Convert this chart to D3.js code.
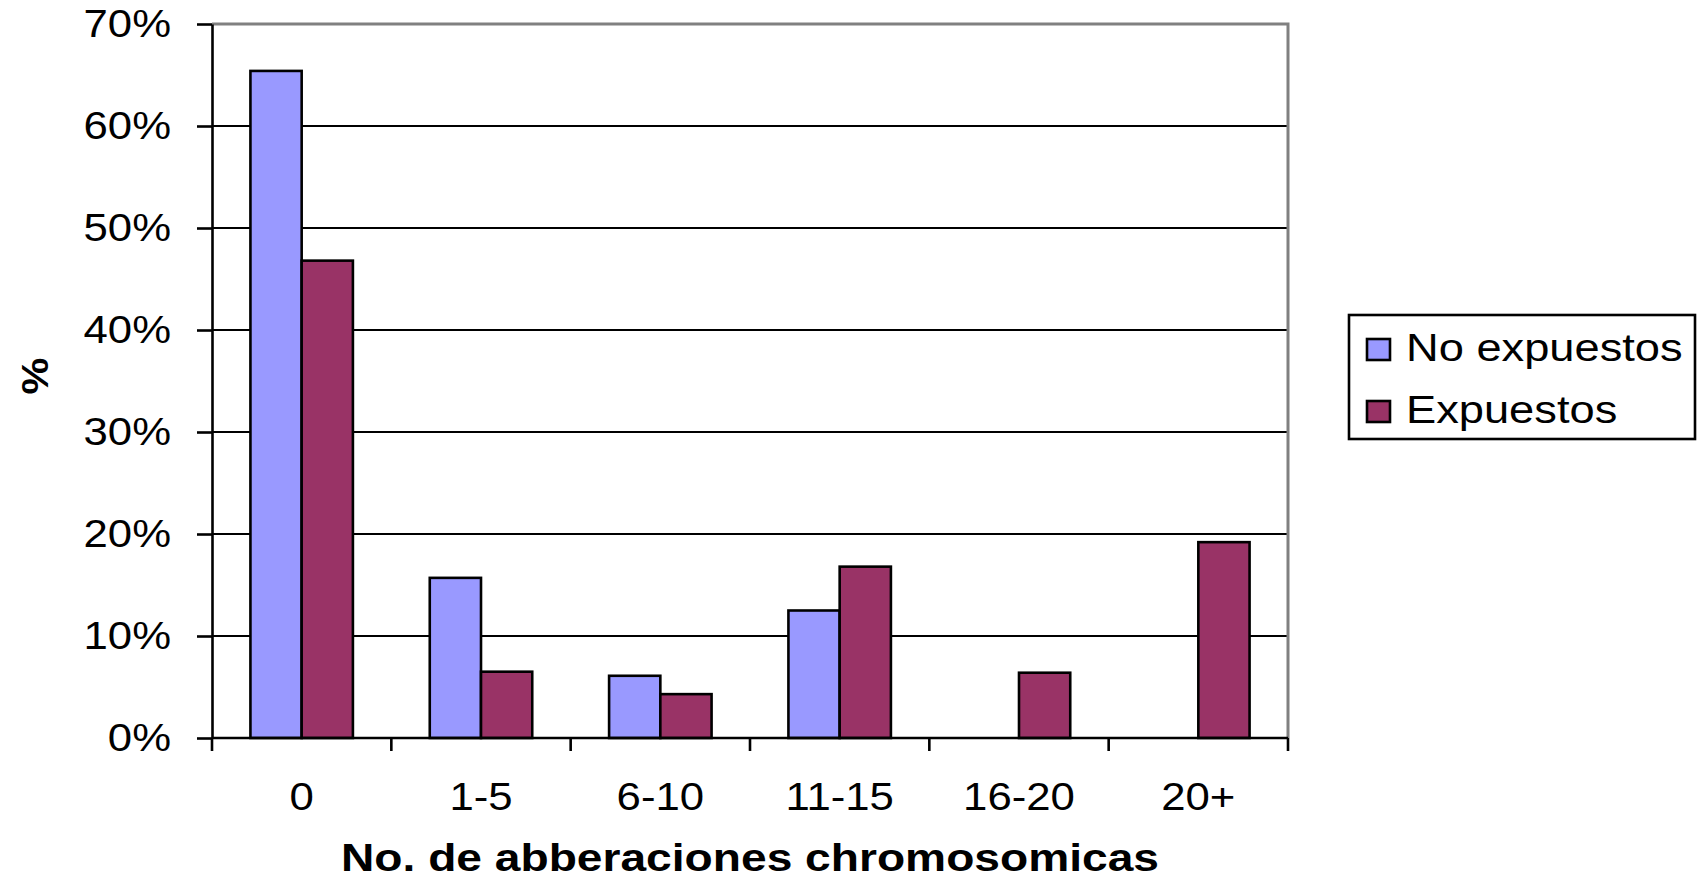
<!DOCTYPE html>
<html>
<head>
<meta charset="utf-8">
<script src="https://cdn.jsdelivr.net/npm/d3@7"></script>
<style>
  html, body { margin: 0; padding: 0; background: #fff; overflow: hidden; }
  svg { display: block; font-family: "Liberation Sans", Arial, sans-serif; }
</style>
</head>
<body>
<svg id="chart" width="1698" height="880"></svg>
<script>
// Chromosomal aberration counts, share of subjects per group
const categories = ["0", "1-5", "6-10", "11-15", "16-20", "20+"];
const seriesNames = ["No expuestos", "Expuestos"];
const noExpuestos = [0.654, 0.157, 0.061, 0.125, 0, 0];
const expuestos   = [0.468, 0.065, 0.043, 0.168, 0.064, 0.192];
const yTicks = [0, 0.1, 0.2, 0.3, 0.4, 0.5, 0.6, 0.7];
const colors = ["#9999FF", "#993366"];

const xTitle = "No. de abberaciones chromosomicas";
const yTitle = "%";

const svg = d3.select("#chart");
const plot = { left: 212, right: 1288, top: 24, bottom: 738 };

const x0 = d3.scaleBand().domain(categories).range([plot.left, plot.right]).padding(0);
const x1 = d3.scaleBand().domain(seriesNames).range([0, x0.bandwidth()])
  .paddingInner(0).paddingOuter(0.75);
const y = d3.scaleLinear().domain([0, 0.7]).range([plot.bottom, plot.top]);

const rows = categories.map((c, i) => ({ cat: c, values: [noExpuestos[i], expuestos[i]] }));

// widen a label's glyphs horizontally by the given factor
function widen(sel, factor) {
  sel.each(function () {
    const w = this.getComputedTextLength();
    if (w > 0) {
      d3.select(this).attr("textLength", w * factor).attr("lengthAdjust", "spacingAndGlyphs");
    }
  });
}

// horizontal gridlines
svg.append("g").selectAll("line")
  .data(yTicks.filter(t => t > 0 && t < 0.7))
  .join("line")
  .attr("x1", plot.left).attr("x2", plot.right)
  .attr("y1", d => y(d)).attr("y2", d => y(d))
  .attr("stroke", "#000").attr("stroke-width", 2.2);

// plot frame: top and right in grey
svg.append("path")
  .attr("d", `M${plot.left},${y(0.7)}H${plot.right}V${plot.bottom}`)
  .attr("fill", "none").attr("stroke", "#808080").attr("stroke-width", 3);

// bars
const groups = svg.append("g").selectAll("g")
  .data(rows).join("g")
  .attr("transform", d => `translate(${x0(d.cat)},0)`);

groups.selectAll("rect")
  .data(d => d.values.map((v, k) => ({ name: seriesNames[k], v, k })).filter(e => e.v > 0))
  .join("rect")
  .attr("x", d => x1(d.name))
  .attr("width", x1.bandwidth())
  .attr("y", d => y(d.v))
  .attr("height", d => y(0) - y(d.v))
  .attr("fill", d => colors[d.k])
  .attr("stroke", "#000").attr("stroke-width", 2.6);

// y axis
const yAxis = svg.append("g")
  .attr("transform", `translate(${plot.left},0)`)
  .call(d3.axisLeft(y).tickValues(yTicks).tickFormat(d3.format(".0%"))
    .tickSizeInner(15).tickSizeOuter(0).tickPadding(26));
yAxis.select(".domain").attr("stroke", "#000").attr("stroke-width", 2.6);
yAxis.selectAll(".tick line").attr("stroke", "#000").attr("stroke-width", 2.6);
yAxis.selectAll(".tick text")
  .attr("font-size", 38).attr("fill", "#000")
  .attr("font-family", "Liberation Sans, Arial, sans-serif")
  .call(widen, 1.15);

// x axis with ticks on category boundaries
const xAxisG = svg.append("g").attr("transform", `translate(0,${plot.bottom})`);
xAxisG.append("line")
  .attr("x1", plot.left).attr("x2", plot.right)
  .attr("stroke", "#000").attr("stroke-width", 2.6);
const boundaries = categories.map(c => x0(c)).concat([plot.right]);
xAxisG.selectAll("line.tk").data(boundaries).join("line")
  .attr("class", "tk")
  .attr("x1", d => d).attr("x2", d => d)
  .attr("y1", 0).attr("y2", 13)
  .attr("stroke", "#000").attr("stroke-width", 2.6);
xAxisG.selectAll("text").data(categories).join("text")
  .attr("x", d => x0(d) + x0.bandwidth() / 2)
  .attr("y", 72)
  .attr("text-anchor", "middle")
  .attr("font-size", 38).attr("fill", "#000")
  .text(d => d)
  .call(widen, 1.15);

// axis titles
svg.append("text")
  .attr("x", (plot.left + plot.right) / 2)
  .attr("y", 871)
  .attr("text-anchor", "middle")
  .attr("font-size", 38).attr("font-weight", "bold")
  .attr("textLength", 818).attr("lengthAdjust", "spacingAndGlyphs")
  .text(xTitle);

svg.append("text")
  .attr("transform", `translate(48,${(plot.top + plot.bottom) / 2 - 5}) rotate(-90)`)
  .attr("text-anchor", "middle")
  .attr("font-size", 36).attr("font-weight", "bold")
  .text(yTitle)
  .call(widen, 1.15);

// legend
const legend = svg.append("g").attr("transform", "translate(1349,315)");
legend.append("rect")
  .attr("x", 0).attr("y", 0).attr("width", 346).attr("height", 124)
  .attr("fill", "#fff").attr("stroke", "#000").attr("stroke-width", 2.6);
const items = legend.selectAll("g.item").data(seriesNames).join("g")
  .attr("class", "item")
  .attr("transform", (d, i) => `translate(18,${24 + i * 62})`);
items.append("rect")
  .attr("width", 23).attr("height", 21)
  .attr("fill", (d, i) => colors[i])
  .attr("stroke", "#000").attr("stroke-width", 2.6);
items.append("text")
  .attr("x", 39).attr("y", 22)
  .attr("font-size", 39).attr("fill", "#000")
  .text(d => d)
  .call(widen, 1.16);
</script>
</body>
</html>
